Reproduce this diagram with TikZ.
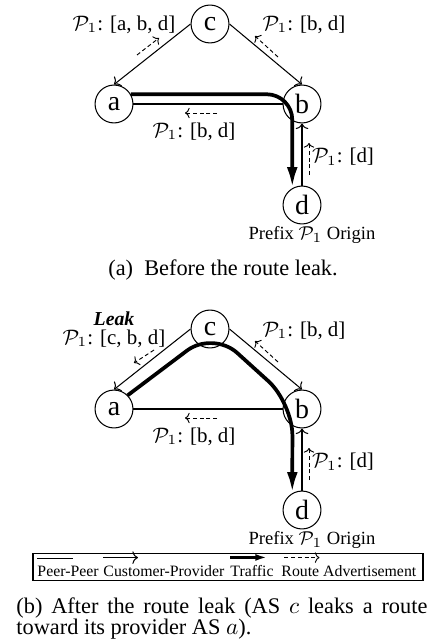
\documentclass[tikz,border=0pt]{standalone}
\usepackage{fontspec}
\setmainfont{Liberation Serif}
\usetikzlibrary{arrows.meta, positioning, calc}

\begin{document}
\begin{tikzpicture}[x=0.43pt, y=-0.43pt]
    % --- Style Definitions ---
    \tikzset{
        as node/.style={
            draw=black,
            circle,
            line width=0.45pt,
            minimum size=16.3pt,
            inner sep=0pt,
            font=\fontsize{12}{14}\selectfont
        },
        path label/.style={
            font=\fontsize{9}{10}\selectfont,
            inner sep=0pt
        },
        peer line/.style={
            draw=black,
            line width=0.45pt
        },
        cust prov/.style={
            -{To[length=2.4pt, width=5.4pt]},
            line width=0.45pt
        },
        traffic/.style={
            -{Latex[length=9pt, width=4.6pt]},
            line width=1.6pt
        },
        route adv/.style={
            -{To[length=2pt, width=4.5pt]},
            dash pattern=on 1.7pt off 1.2pt,
            line width=0.4pt
        },
        caption text/.style={
            font=\fontsize{9.6}{11}\selectfont,
            inner sep=0pt
        },
        legend text/.style={
            font=\fontsize{6.8}{8}\selectfont,
            inner sep=0pt,
            anchor=base west
        }
    }

    \useasboundingbox (0,0) rectangle (430,643);

    % --- 1. Before the leak: the ASes ---
    \node[as node] (c1) at (210,24) {c};
    \node[as node] (a1) at (114,104) {a};
    \node[as node] (b1) at (302,104) {b};
    \node[as node] (d1) at (302,205) {d};

    % links
    \draw[cust prov] (c1.west) -- (a1.north);
    \draw[cust prov] (c1.east) -- (b1.north);
    \draw[peer line] (a1) -- (b1);
    \draw[cust prov] (d1) -- (b1);

    % traffic a -> b -> d
    \draw[traffic, rounded corners=11pt] (a1.30) -| (d1.120);

    % route advertisements
    \coordinate (adv_ca1_s) at (137,55);
    \coordinate (adv_ca1_e) at (159,38);
    \coordinate (adv_cb1_s) at (278,57);
    \coordinate (adv_cb1_e) at (255,36);
    \coordinate (adv_ab1_s) at (217,113);
    \coordinate (adv_ab1_e) at (185,113);
    \coordinate (adv_db1_s) at (309,175);
    \coordinate (adv_db1_e) at (309,143);
    \draw[route adv] (adv_ca1_s) -- (adv_ca1_e);
    \draw[route adv] (adv_cb1_s) -- (adv_cb1_e);
    \draw[route adv] (adv_ab1_s) -- (adv_ab1_e);
    \draw[route adv] (adv_db1_s) -- (adv_db1_e);

    % path labels
    \node[path label] (lbl_ca1) at (124,25) {$\mathcal{P}_1$: [a, b, d]};
    \node[path label] (lbl_cb1) at (304,25) {$\mathcal{P}_1$: [b, d]};
    \node[path label] (lbl_ab1) at (194,132) {$\mathcal{P}_1$: [b, d]};
    \node[path label] (lbl_db1) at (343,157) {$\mathcal{P}_1$: [d]};
    \node[path label, font=\fontsize{8}{9}\selectfont] (lbl_origin1) at (312,235) {Prefix $\mathcal{P}_1$ Origin};

    \node[caption text, anchor=base] (cap_a) at (223,275) {(a)\enspace Before the route leak.};

    % --- 2. After the leak: the ASes ---
    \node[as node] (c2) at (210,329) {c};
    \node[as node] (a2) at (114,409) {a};
    \node[as node] (b2) at (302,409) {b};
    \node[as node] (d2) at (302,510) {d};

    % links
    \draw[cust prov] (c2.west) -- (a2.north);
    \draw[cust prov] (c2.east) -- (b2.north);
    \draw[peer line] (a2) -- (b2);
    \draw[cust prov] (d2) -- (b2);

    % traffic a -> c -> b -> d
    \coordinate (tr_top) at (213,331);
    \coordinate (tr_bend) at (292.5,403);
    \draw[traffic, rounded corners=14pt] (a2.45) -- (tr_top) -- (tr_bend) -- (d2.120);

    % route advertisements
    \coordinate (adv_ca2_s) at (154,350);
    \coordinate (adv_ca2_e) at (134,363);
    \coordinate (adv_cb2_s) at (278,362);
    \coordinate (adv_cb2_e) at (255,341);
    \coordinate (adv_ab2_s) at (217,418);
    \coordinate (adv_ab2_e) at (185,418);
    \coordinate (adv_db2_s) at (309,480);
    \coordinate (adv_db2_e) at (309,448);
    \draw[route adv] (adv_ca2_s) -- (adv_ca2_e);
    \draw[route adv] (adv_cb2_s) -- (adv_cb2_e);
    \draw[route adv] (adv_ab2_s) -- (adv_ab2_e);
    \draw[route adv] (adv_db2_s) -- (adv_db2_e);

    % path labels
    \node[path label] (lbl_ca2) at (114,339) {$\mathcal{P}_1$: [c, b, d]};
    \node[path label, font=\fontsize{8.5}{9}\selectfont\bfseries\itshape, above=1.5pt of lbl_ca2] (lbl_leak) {Leak};
    \node[path label] (lbl_cb2) at (304,331) {$\mathcal{P}_1$: [b, d]};
    \node[path label] (lbl_ab2) at (194,437) {$\mathcal{P}_1$: [b, d]};
    \node[path label] (lbl_db2) at (343,462) {$\mathcal{P}_1$: [d]};
    \node[path label, font=\fontsize{8}{9}\selectfont] (lbl_origin2) at (312,540) {Prefix $\mathcal{P}_1$ Origin};

    % --- 3. Legend ---
    \node[draw, line width=0.45pt, minimum width=167.7pt, minimum height=12pt, inner sep=0pt] (legend) at (228,567) {};
    \node[legend text] (lg_pp) at (37,576) {Peer-Peer};
    \node[legend text] (lg_cp) at (103,576) {Customer-Provider};
    \node[legend text] (lg_tr) at (230,576) {Traffic};
    \node[legend text] (lg_ra) at (281,576) {Route Advertisement};
    \draw[peer line] ([yshift=3pt]lg_pp.north west) -- ++(36,0);
    \draw[cust prov] ([yshift=3pt]lg_cp.north west) -- ++(35,0);
    \draw[traffic, -{Latex[length=5pt, width=3pt]}, line width=1.2pt] ([yshift=3pt]lg_tr.north west) -- ++(37,0);
    \draw[route adv] ([yshift=3pt, xshift=1.5pt]lg_ra.north west) -- ++(35,0);

    % --- 4. Caption (b) ---
    \node[caption text, anchor=base west] (cap_b1) at (16,613) {\makebox[176.7pt][s]{(b) After the route leak (AS $c$ leaks a route}};
    \node[caption text, anchor=base west] (cap_b2) at (16,634) {toward its provider AS $a$).};

\end{tikzpicture}
\end{document}
